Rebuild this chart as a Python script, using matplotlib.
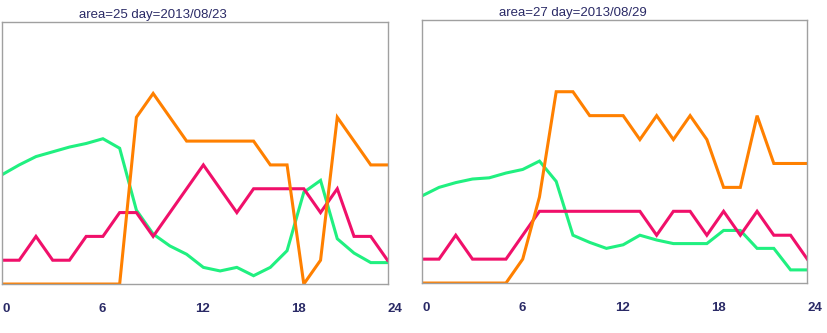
import matplotlib.pyplot as plt

hours = list(range(24))
tick_labels = ['0', '6', '12', '18', '24']

# area 25, 2013/08/23
title1 = 'area=25 day=2013/08/23'
orange1 = [0, 0, 0, 0, 0, 0, 0, 0, 7, 8, 7, 6, 6, 6, 6, 6, 5, 5, 0, 1, 7, 6, 5, 5]
pink1 = [1, 1, 2, 1, 1, 2, 2, 3, 3, 2, 3, 4, 5, 4, 3, 4, 4, 4, 4, 3, 4, 2, 2, 1]
green1 = [4.6, 5.0, 5.35, 5.55, 5.75, 5.9, 6.1, 5.7, 3.1, 2.1, 1.6, 1.25,
          0.7, 0.55, 0.7, 0.35, 0.7, 1.4, 3.85, 4.35, 1.9, 1.3, 0.9, 0.9]

# area 27, 2013/08/29
title2 = 'area=27 day=2013/08/29'
orange2 = [0, 0, 0, 0, 0, 0, 1, 3.6, 8, 8, 7, 7, 7, 6, 7, 6, 7, 6, 4, 4, 7, 5, 5, 5]
pink2 = [1, 1, 2, 1, 1, 1, 2, 3, 3, 3, 3, 3, 3, 3, 2, 3, 3, 2, 3, 2, 3, 2, 2, 1]
green2 = [3.65, 4.0, 4.2, 4.35, 4.4, 4.6, 4.75, 5.1, 4.25, 2.0, 1.7, 1.45,
          1.6, 2.0, 1.8, 1.65, 1.65, 1.65, 2.2, 2.2, 1.45, 1.45, 0.55, 0.55]

c_orange = '#ff8000'
c_pink = '#f0106a'
c_green = '#20f080'
c_text = '#2a2a66'

fig = plt.figure(figsize=(8.28, 3.33), dpi=100)
boxes = [[0.003, 0.147, 0.465, 0.787], [0.510, 0.150, 0.465, 0.790]]
panels = [(title1, orange1, pink1, green1), (title2, orange2, pink2, green2)]

for box, (title, o, p, g) in zip(boxes, panels):
    ax = fig.add_axes(box)
    ax.plot(hours, g, color=c_green, lw=2.2, solid_joinstyle='miter')
    ax.plot(hours, p, color=c_pink, lw=2.2, solid_joinstyle='miter')
    ax.plot(hours, o, color=c_orange, lw=2.2, solid_joinstyle='miter')
    ax.set_xlim(0, 23)
    ax.set_ylim(0, 11)
    ax.set_yticks([])
    ax.set_xticks([23 / 4 * k for k in range(5)])
    ax.set_xticklabels(tick_labels, ha='left', color=c_text, fontweight='bold',
                       fontsize=9.5, family='Liberation Sans')
    ax.tick_params(axis='x', length=0, pad=14)
    for s in ax.spines.values():
        s.set_color('#a0a0a0')
        s.set_linewidth(1)
    ax.text(0.2, 1.003, title, transform=ax.transAxes, ha='left', va='bottom',
            color=c_text, fontsize=9.5, family='Liberation Sans')

fig.savefig('out.png', dpi=100)
